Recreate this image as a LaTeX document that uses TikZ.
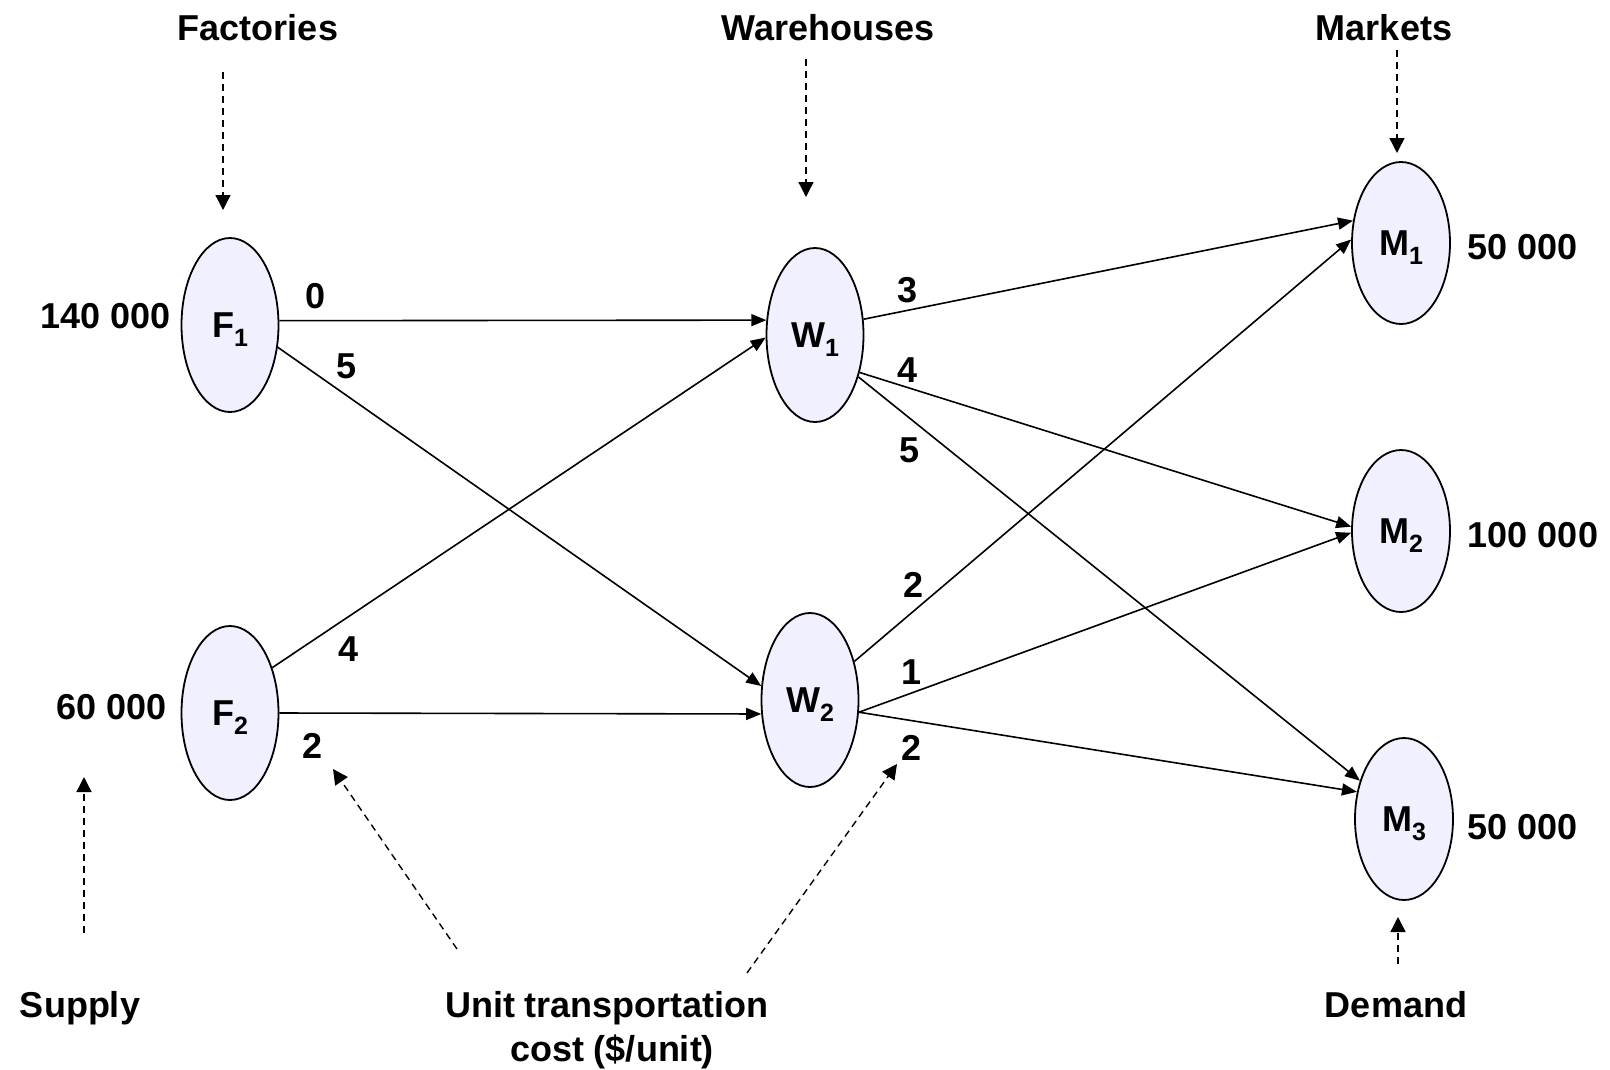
\documentclass[tikz,border=0pt]{standalone}
\usepackage{fontspec}
\setmainfont{Liberation Sans}
\usetikzlibrary{arrows.meta,shapes.geometric}
\definecolor{nodefill}{RGB}{240,240,255}
\tikzset{
  lbl/.style={font=\fontsize{36}{40}\selectfont\bfseries, anchor=base, inner sep=0pt},
  fnode/.style={ellipse, draw=black, line width=1.8pt, fill=nodefill, minimum width=97pt, minimum height=174pt, inner sep=0pt, font=\fontsize{36}{40}\selectfont\bfseries},
  mnode/.style={fnode, minimum width=98pt, minimum height=162pt},
  flow/.style={line width=1.6pt, -{Triangle[length=15pt,width=12pt]}},
  hint/.style={line width=1.4pt, dash pattern=on 7pt off 5pt, -{Triangle[length=15pt,width=15pt]}}
}
\newcommand{\nm}[2]{#1\raisebox{-9pt}[0pt][0pt]{\fontsize{25}{28}\selectfont #2}}
\begin{document}
\begin{tikzpicture}[x=1pt,y=-1pt]
\useasboundingbox (0,0) rectangle (1610,1069);
% nodes
\node[fnode] (F1) at (230,325) {\nm{F}{1}};
\node[fnode] (F2) at (230,713) {\nm{F}{2}};
\node[fnode] (W1) at (815,335) {\nm{W}{1}};
\node[fnode] (W2) at (810,700) {\nm{W}{2}};
\node[mnode] (M1) at (1401,243) {\nm{M}{1}};
\node[mnode] (M2) at (1401,531) {\nm{M}{2}};
\node[mnode] (M3) at (1404,819) {\nm{M}{3}};
% headings
\node[lbl] (tf) at (258,40) {Factories};
\node[lbl] (tw) at (828,40) {Warehouses};
\node[lbl] (tm) at (1384,40) {Markets};
\node[lbl] (ts) at (80,1017) {Supply};
\node[lbl] (tu) at (607,1017) {Unit transportation};
\node[lbl] (tc) at (612,1061) {cost (\$/unit)};
\node[lbl] (td) at (1396,1017) {Demand};
% supply / demand
\node[lbl] (s1) at (106,328) {140 000};
\node[lbl] (s2) at (112,719) {60 000};
\node[lbl] (d1) at (1523,259) {50 000};
\node[lbl] (d2) at (1533,547) {100 000};
\node[lbl] (d3) at (1523,839) {50 000};
% flows
\draw[flow] (F1.5) -- (W1.163);
\draw[flow] (F1.-25) -- (W2.164);
\draw[flow] (F2.47) -- (W1.183);
\draw[flow] (F2.0) -- (W2.196);
\draw[flow] (W1.18) -- (M1.155);
\draw[flow] (W1.-40) -- (M2.175);
\draw[flow] (W1.-44) -- (M3.139);
\draw[flow] (W2.41) -- (M1.176);
\draw[flow] (W2.-14) -- (M2.182);
\draw[flow] (W2.-14) -- (M3.150);
% costs
\node[lbl] (c1) at (316,308) {0};
\node[lbl] (c2) at (347,378) {5};
\node[lbl] (c3) at (349,661) {4};
\node[lbl] (c4) at (313,758) {2};
\node[lbl] (c5) at (908,302) {3};
\node[lbl] (c6) at (908,382) {4};
\node[lbl] (c7) at (910,462) {5};
\node[lbl] (c8) at (914,597) {2};
\node[lbl] (c9) at (912,684) {1};
\node[lbl] (c10) at (912,760) {2};
% hint arrows
\coordinate (hf1) at (223,72);  \coordinate (hf2) at (223,210);
\coordinate (hw1) at (806,59);  \coordinate (hw2) at (806,197);
\coordinate (hm1) at (1397,50); \coordinate (hm2) at (1397,153);
\coordinate (hs1) at (84,933);  \coordinate (hs2) at (84,777);
\coordinate (hu1) at (457,949); \coordinate (hu2) at (333,769);
\coordinate (hv1) at (747,973); \coordinate (hv2) at (897,764);
\coordinate (hd1) at (1398,964); \coordinate (hd2) at (1398,917);
\draw[hint] (hf1) -- (hf2);
\draw[hint] (hw1) -- (hw2);
\draw[hint] (hm1) -- (hm2);
\draw[hint] (hs1) -- (hs2);
\draw[hint] (hu1) -- (hu2);
\draw[hint] (hv1) -- (hv2);
\draw[hint] (hd1) -- (hd2);
\end{tikzpicture}
\end{document}
